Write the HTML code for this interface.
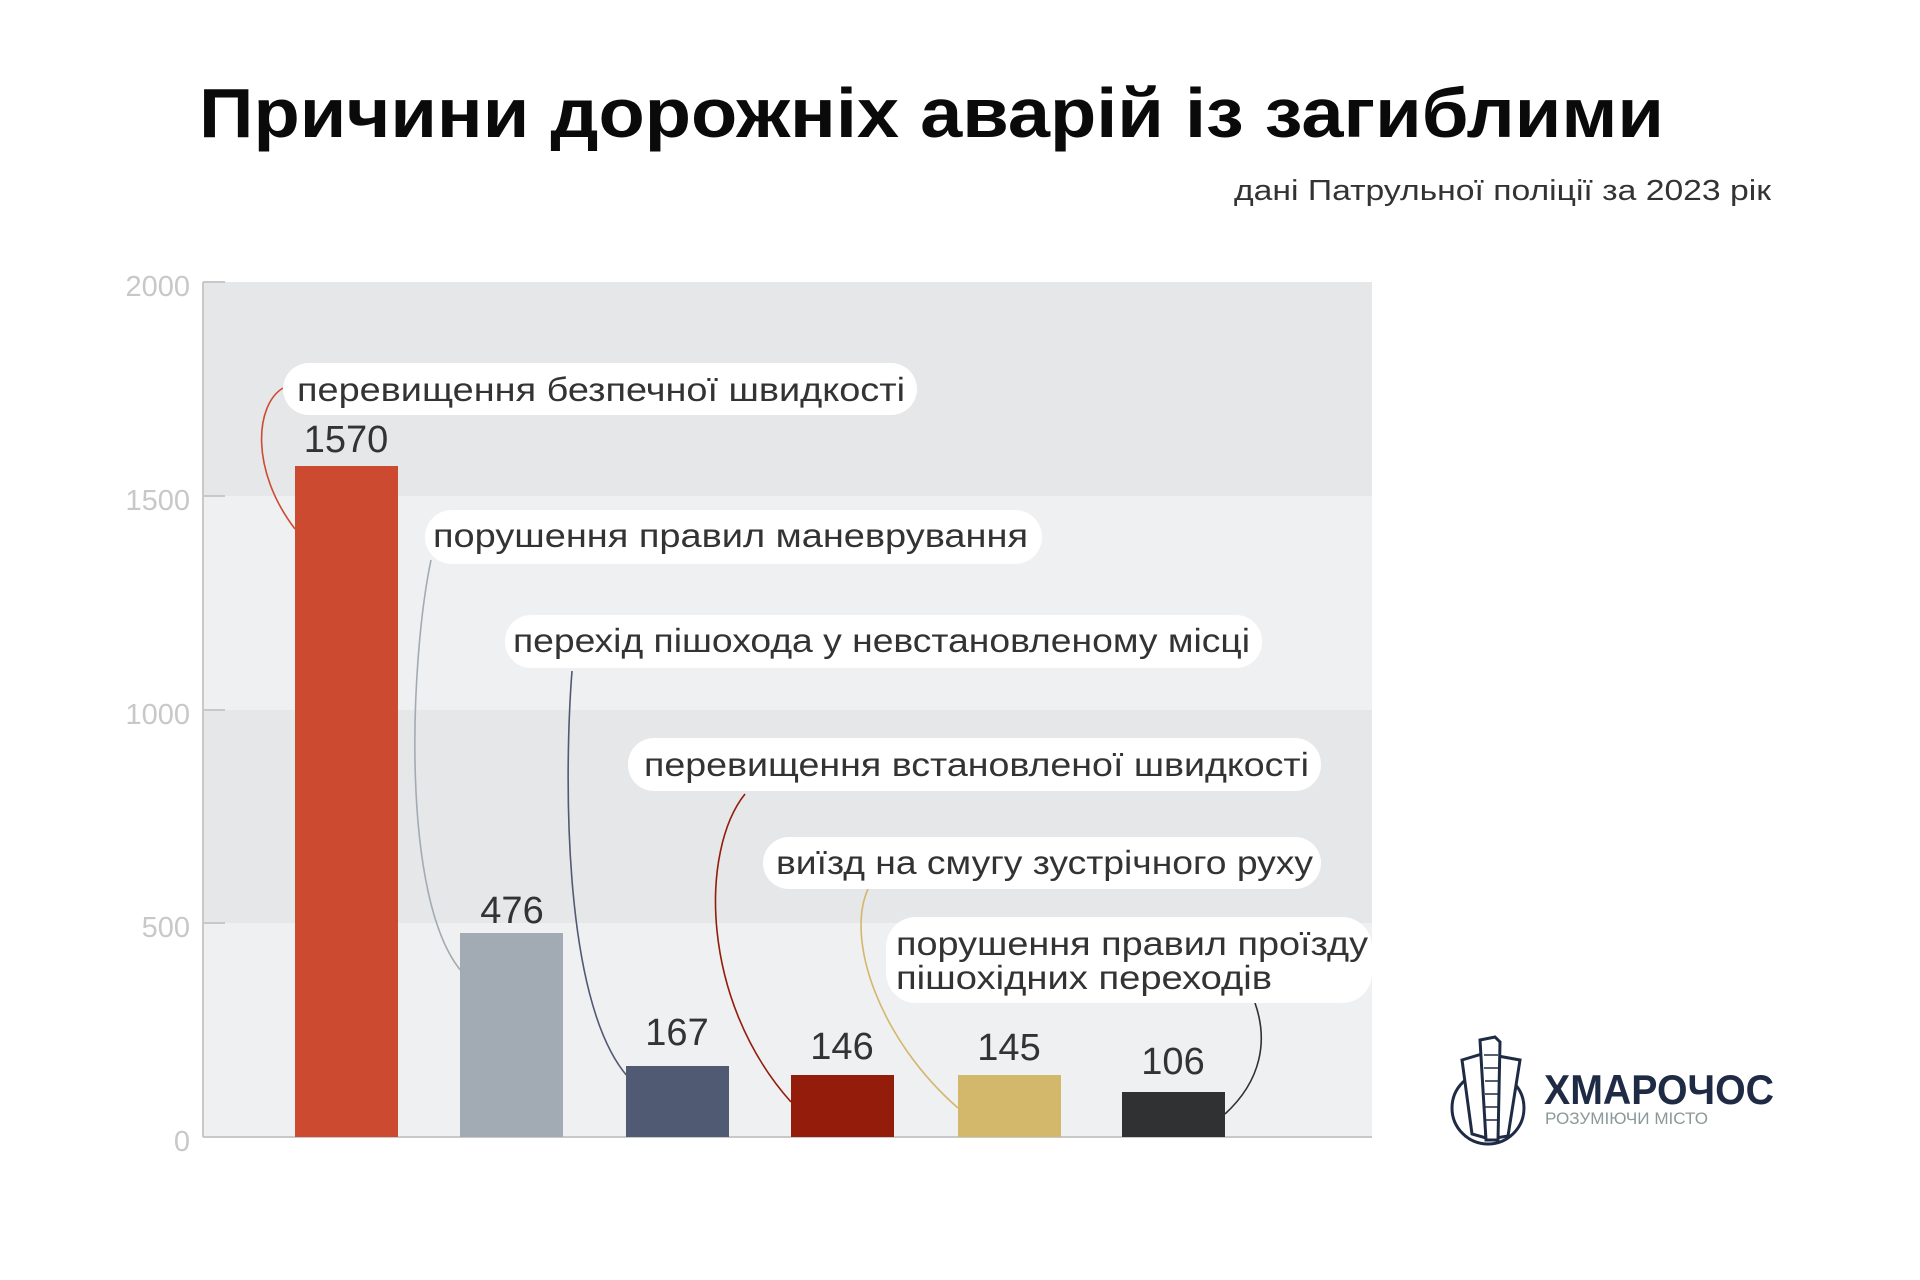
<!DOCTYPE html>
<html><head><meta charset="utf-8"><style>
html,body{margin:0;padding:0;background:#fff;}
svg{display:block;}
text{font-family:"Liberation Sans",sans-serif;}
</style></head><body>
<svg width="1920" height="1280" viewBox="0 0 1920 1280" xmlns="http://www.w3.org/2000/svg">
<rect width="1920" height="1280" fill="#fff"/>
<text x="199" y="137" font-size="70" font-weight="bold" fill="#0a0a0a" textLength="1465" lengthAdjust="spacingAndGlyphs">Причини дорожніх аварій із загиблими</text>
<text x="1234" y="200" font-size="29" fill="#333" textLength="537" lengthAdjust="spacingAndGlyphs">дані Патрульної поліції за 2023 рік</text>
<!-- bands -->
<rect x="203" y="282" width="1169" height="214" fill="#e6e7e9"/>
<rect x="203" y="496" width="1169" height="214" fill="#eff0f2"/>
<rect x="203" y="710" width="1169" height="213" fill="#e6e7e9"/>
<rect x="203" y="923" width="1169" height="214" fill="#eff0f2"/>
<g stroke="#c8c8c8" stroke-width="2">
<line x1="203" y1="282" x2="203" y2="1137"/>
<line x1="203" y1="1137" x2="1372" y2="1137"/>
<line x1="203" y1="282" x2="225" y2="282"/>
<line x1="203" y1="496" x2="225" y2="496"/>
<line x1="203" y1="710" x2="225" y2="710"/>
<line x1="203" y1="923" x2="225" y2="923"/>
</g>
<g font-size="29" fill="#c8c8c8" text-anchor="end">
<text x="190" y="296">2000</text>
<text x="190" y="510">1500</text>
<text x="190" y="724">1000</text>
<text x="190" y="937">500</text>
<text x="190" y="1151">0</text>
</g>
<!-- bars -->
<rect x="295" y="466" width="103" height="671" fill="#cc4a30"/>
<rect x="460" y="933" width="103" height="204" fill="#a2abb3"/>
<rect x="626" y="1066" width="103" height="71" fill="#515a73"/>
<rect x="791" y="1075" width="103" height="62" fill="#931c0b"/>
<rect x="958" y="1075" width="103" height="62" fill="#d3b76a"/>
<rect x="1122" y="1092" width="103" height="45" fill="#2f3133"/>
<g font-size="38" fill="#333" text-anchor="middle">
<text x="346" y="452">1570</text>
<text x="512" y="923">476</text>
<text x="677" y="1045">167</text>
<text x="842" y="1059">146</text>
<text x="1009" y="1060">145</text>
<text x="1173" y="1074">106</text>
</g>
<!-- connectors -->
<g fill="none" stroke-width="1.6">
<path d="M283 388 C 255 405, 250 470, 295 529" stroke="#cc4a30"/>
<path d="M431 560 C 410 660, 400 900, 462 972" stroke="#a2abb3"/>
<path d="M572 671 C 565 760, 560 1000, 628 1077" stroke="#515a73"/>
<path d="M745 794 C 700 850, 700 1000, 791 1102" stroke="#931c0b"/>
<path d="M868 889 C 845 940, 880 1040, 958 1108" stroke="#d3b76a"/>
<path d="M1255 1003 C 1268 1040, 1262 1080, 1225 1114" stroke="#2f3133"/>
</g>
<!-- callouts -->
<g fill="#fff">
<rect x="283" y="363" width="634" height="52" rx="26"/>
<rect x="425" y="510" width="617" height="54" rx="27"/>
<rect x="505" y="615" width="757" height="53" rx="26"/>
<rect x="628" y="738" width="693" height="53" rx="26"/>
<rect x="763" y="837" width="558" height="52" rx="26"/>
<rect x="886" y="917" width="486" height="86" rx="30"/>
</g>
<g font-size="33" fill="#333">
<text x="297" y="401" textLength="608" lengthAdjust="spacingAndGlyphs">перевищення безпечної швидкості</text>
<text x="433" y="547" textLength="595" lengthAdjust="spacingAndGlyphs">порушення правил маневрування</text>
<text x="513" y="652" textLength="737" lengthAdjust="spacingAndGlyphs">перехід пішохода у невстановленому місці</text>
<text x="644" y="776" textLength="665" lengthAdjust="spacingAndGlyphs">перевищення встановленої швидкості</text>
<text x="776" y="874" textLength="537" lengthAdjust="spacingAndGlyphs">виїзд на смугу зустрічного руху</text>
<text x="896" y="955" textLength="472" lengthAdjust="spacingAndGlyphs">порушення правил проїзду</text>
<text x="896" y="989" textLength="376" lengthAdjust="spacingAndGlyphs">пішохідних переходів</text>
</g>
<!-- logo -->
<g fill="none" stroke="#1f2a44" stroke-width="3">
<circle cx="1488" cy="1108" r="36"/>
<path d="M1462 1060 L1482 1054 L1486 1138 L1472 1134 Z" fill="#fff"/>
<path d="M1498 1056 L1520 1060 L1508 1136 L1496 1138 Z" fill="#fff"/>
<path d="M1480 1040 L1495 1037 L1500 1042 L1498 1140 L1486 1140 Z" fill="#fff"/>
</g>
<g stroke="#1f2a44" stroke-width="1.5">
<line x1="1484" y1="1055" x2="1498" y2="1055"/><line x1="1484" y1="1068" x2="1498" y2="1068"/>
<line x1="1485" y1="1081" x2="1498" y2="1081"/><line x1="1485" y1="1094" x2="1498" y2="1094"/>
<line x1="1485" y1="1107" x2="1498" y2="1107"/><line x1="1486" y1="1120" x2="1498" y2="1120"/>
</g>
<text x="1544" y="1104" font-size="42" font-weight="bold" fill="#1f2a44" textLength="230" lengthAdjust="spacingAndGlyphs">ХМАРОЧОС</text>
<text x="1545" y="1124" font-size="17" fill="#8a9898" textLength="163" lengthAdjust="spacingAndGlyphs">РОЗУМІЮЧИ МІСТО</text>
</svg>
</body></html>
